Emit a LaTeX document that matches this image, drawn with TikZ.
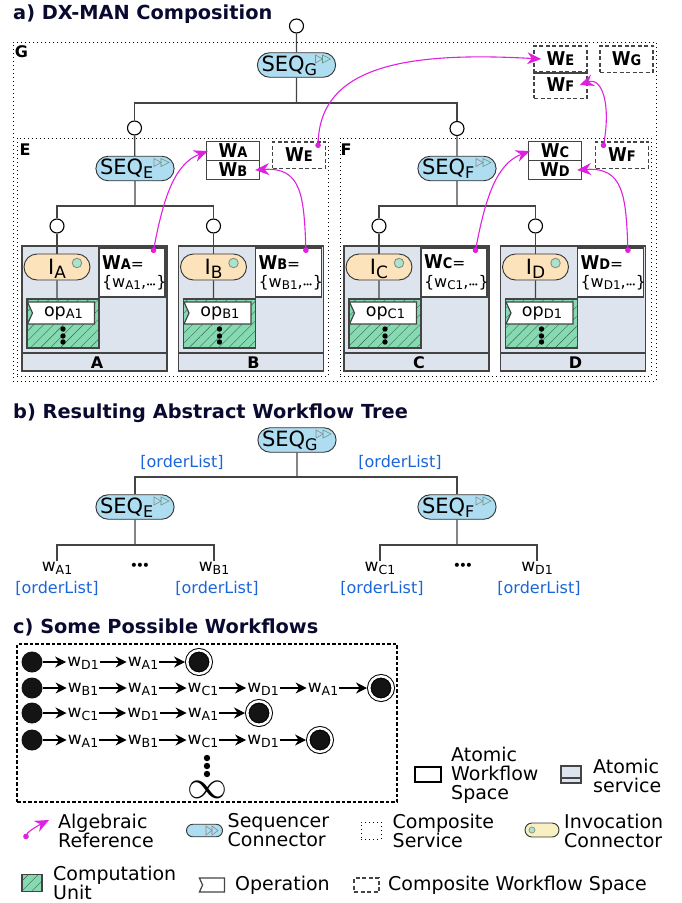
\documentclass[tikz,border=0pt]{standalone}
\usepackage{fontspec}
\setmainfont{DejaVu Sans}
\usetikzlibrary{arrows.meta,patterns.meta,shapes.misc,shapes.symbols}
\definecolor{seqblue}{HTML}{AEDCF0}
\definecolor{ifcorange}{HTML}{FDE3BC}
\definecolor{ifcyellow}{HTML}{F8F0C0}
\definecolor{svcgray}{HTML}{DEE4EE}
\definecolor{cugreen}{HTML}{86DAB2}
\definecolor{refpink}{HTML}{E020E0}
\definecolor{listblue}{HTML}{1A66D8}
\definecolor{titlenavy}{HTML}{0A0A30}
\definecolor{linegray}{HTML}{444444}
\newcommand{\fs}[1]{\fontsize{#1}{#1}\selectfont}
\newcommand{\subt}[2][12.5]{\raisebox{-2.5pt}[0pt][0pt]{\fs{#1}#2}}
\newcommand{\bigsub}[2][16]{\raisebox{-4pt}[0pt][0pt]{\fs{#1}#2}}
\newcommand{\wlab}[1]{w\subt{#1}}
\newcommand{\wbold}[1]{\scalebox{1}[1.12]{\bfseries\fs{17}W\fs{13}#1}}
\newcommand{\threedots}[1]{{\fs{#1}•\kern-.16em•\kern-.16em•}}
\tikzset{
  wire/.style={draw=linegray,line width=1.3pt},
  sectitle/.style={anchor=base west,inner sep=0pt,text=titlenavy,font=\fs{19.35}\bfseries},
  port/.style={circle,draw=black,fill=white,line width=1.1pt,minimum size=14pt,inner sep=0pt},
  seqconn/.style={rounded rectangle,draw=black!80,line width=.9pt,fill=seqblue,minimum width=76pt,minimum height=24.5pt,inner sep=0pt,text width=70pt,align=left,font=\fs{21}},
  ifcconn/.style={rounded rectangle,draw=black!80,line width=.9pt,fill=ifcorange,minimum width=66pt,minimum height=26pt,inner sep=0pt,font=\fs{21}},
  svcbox/.style={draw=linegray,line width=1.4pt,fill=svcgray,minimum width=145pt,minimum height=125pt,inner sep=0pt},
  cubox/.style={draw=linegray,line width=1.2pt,preaction={fill=cugreen},pattern={Lines[angle=45,distance=7pt,line width=.4pt]},pattern color=black!55!cugreen,inner sep=0pt},
  opbanner/.style={signal,signal from=west,signal to=nowhere,signal pointer angle=131,draw=linegray,line width=1.2pt,fill=white,inner sep=0pt,font=\fs{17.5}},
  wsetbox/.style={draw=linegray,line width=1.2pt,fill=white,minimum width=66pt,minimum height=49pt,inner sep=3pt,align=left,text width=60pt},
  wcell/.style={draw=linegray,line width=1.3pt,fill=white,minimum width=53pt,minimum height=19pt,inner sep=0pt},
  wdash/.style={draw=linegray,line width=1.5pt,dash pattern=on 4pt off 2.5pt,fill=white,minimum width=53pt,minimum height=26.5pt,inner sep=0pt},
  compbox/.style={draw=black,line width=1pt,dash pattern=on 1pt off 3pt,inner sep=0pt},
  boxname/.style={inner sep=0pt,font=\fs{16}\bfseries},
  refarrow/.style={draw=refpink,line width=1.1pt,{Circle[length=5.5pt]}-{Stealth[length=14pt,width=12pt]}},
  reflist/.style={inner sep=0pt,text=listblue,font=\fs{16}},
  wleaf/.style={inner sep=1pt,font=\fs{17}},
  flow/.style={draw=black,line width=1.1pt,-{Stealth[length=11pt,width=11pt]}},
  startdot/.style={circle,fill=black!92,minimum size=21pt,inner sep=0pt},
  enddot/.style={circle,draw=black,line width=1pt,fill=black!92,double=white,double distance=2.5pt,minimum size=23.5pt,inner sep=0pt,outer sep=2.25pt},
  legtext/.style={anchor=west,align=left,inner sep=0pt,font=\fs{19}},
  seqmarks/.pic={
    \draw[black!45,line width=.6pt] (19,-10) -- (26,-6) -- (19,-2) -- cycle;
    \draw[black!30!cugreen,line width=.6pt] (26,-10) -- (34,-6) -- (26,-2) -- cycle;
  }
}
\begin{document}
\begin{tikzpicture}[x=1pt,y=-1pt]
\useasboundingbox (0,0) rectangle (681,903);
\node[sectitle] (titleA) at (13,19) {a) DX-MAN Composition};
\node[sectitle] (titleB) at (13,418) {b) Resulting Abstract Workflow Tree};
\node[sectitle] (titleC) at (13,633) {c) Some Possible Workflows};

\node[compbox,minimum width=643pt,minimum height=339pt] (compG) at (334.5,211.5) {};
\node[compbox,minimum width=311pt,minimum height=238pt] (compE) at (172.5,257) {};
\node[compbox,minimum width=311pt,minimum height=238pt] (compF) at (495.5,257) {};
\node[boxname] (nameG) at (21.5,52) {G};
\node[boxname] (nameE) at (25,150) {E};
\node[boxname] (nameF) at (346,150) {F};

\node[port] (portG) at (296.5,26) {};
\node[port] (portE) at (134.5,128) {};
\node[port] (portF) at (457,128.5) {};
\node[seqconn] (seqG) at (296.5,65) {SEQ\bigsub{G}};
\node[seqconn] (seqE) at (135,168.5) {SEQ\bigsub{E}};
\node[seqconn] (seqF) at (457,168.5) {SEQ\bigsub{F}};
\foreach \sq in {seqG,seqE,seqF}
  \pic at (\sq) {seqmarks};
\coordinate (busG) at (296.5,103);
\coordinate (busE) at (135,206);
\coordinate (busF) at (457,206);
\draw[wire] (portG) -- (seqG);
\draw[wire] (seqG) -- (busG);
\draw[wire] (portE) |- (busG) -| (portF);
\draw[wire] (portE) -- (seqE);
\draw[wire] (portF) -- (seqF);
\draw[wire] (seqE) -- (busE);
\draw[wire] (seqF) -- (busF);

\foreach \nm/\sx/\bu in {A/0/E,B/156.5/E,C/322/F,D/478.5/F}{
  \begin{scope}[xshift=\sx]
  \node[port] (port\nm) at (57,226) {};
  \node[svcbox] (svc\nm) at (94.5,308.5) {};
  \draw[wire] (svc\nm.west |- 0,353) -- (svc\nm.east |- 0,353);
  \node[boxname] (lbl\nm) at (97,362.5) {\nm};
  \node[ifcconn] (ifc\nm) at (57,267) {I\bigsub[17]{\nm}};
  \node[circle,fill=cugreen!70,draw=black!45,line width=.9pt,minimum size=9.5pt,inner sep=0pt] (led\nm) at (77,263) {};
  \node[cubox,minimum width=72pt,minimum height=49pt] (cu\nm) at (63,323.5) {};
  \node[opbanner,minimum width=67pt,minimum height=22pt] (op\nm) at (63.5,313) {op\subt[13]{\nm1}};
  \foreach \yy in {329,336,342} \fill[black] (63,\yy) circle (2.7);
  \node[wsetbox] (wset\nm) at (132,272.5) {\wbold{\nm}\fs{15.5}=\\[5pt]\fs{16}\{w\subt[12]{\nm1},\threedots{7}\}};
  \draw[wire] (port\nm) -- (ifc\nm);
  \draw[wire] (ifc\nm) -- (ifc\nm |- cu\nm.north);
  \draw[wire] (port\nm) |- (bus\bu);
  \end{scope}
}
\foreach \nm/\ca/\cb/\cx in {A/A/B/233,C/C/D/555}{
  \node[wcell] (cell\ca) at (\cx,151) {\wbold{\ca}};
  \node[wcell] (cell\cb) at (\cx,170) {\wbold{\cb}};
}
\node[wdash] (wdashE) at (299,155) {\wbold{E}};
\node[wdash] (wdashF) at (622,155) {\wbold{F}};
\node[wdash] (wtopE) at (560.5,59) {\wbold{E}};
\node[wdash] (wtopF) at (560.5,85) {\wbold{F}};
\node[wdash] (wtopG) at (626.5,59) {\wbold{G}};
\draw[wire] (wtopE.south west) -- (wtopE.south east);

\coordinate (refA) at (153,253);
\coordinate (refB) at (306,253);
\coordinate (refC) at (475,253);
\coordinate (refD) at (628,253);
\coordinate (refE) at (318,148);
\coordinate (refF) at (603,148);
\draw[refarrow] (refA) .. controls +(10,-53) and +(-34,13) .. ([xshift=2pt]cellA.west);
\draw[refarrow] (refB) .. controls +(-2,-58) and +(46,-3) .. ([xshift=-5pt]cellB.east);
\draw[refarrow] (refC) .. controls +(10,-53) and +(-34,13) .. ([xshift=2pt]cellC.west);
\draw[refarrow] (refD) .. controls +(-2,-58) and +(46,-3) .. ([xshift=-5pt]cellD.east);
\draw[refarrow] (refE) .. controls +(2,-80) and +(-140,-8) .. ([xshift=8pt]wtopE.west);
\draw[refarrow] (refF) .. controls +(8,-45) and +(22,-8) .. ([xshift=-8pt]wtopF.east);

\node[seqconn] (treeG) at (297,440) {SEQ\bigsub{G}};
\node[seqconn] (treeE) at (135,507) {SEQ\bigsub{E}};
\node[seqconn] (treeF) at (457,507) {SEQ\bigsub{F}};
\foreach \sq in {treeG,treeE,treeF}
  \pic at (\sq) {seqmarks};
\coordinate (treebusG) at (297,477);
\coordinate (treebusE) at (135,545);
\coordinate (treebusF) at (457,545);
\draw[wire] (treeG) -- (treebusG);
\draw[wire] (treeE) |- (treebusG) -| (treeF);
\draw[wire] (treeE) -- (treebusE);
\draw[wire] (treeF) -- (treebusF);
\node[reflist] (listE) at (182,462) {[orderList]};
\node[reflist] (listF) at (400,462) {[orderList]};
\foreach \nm/\lx/\ox/\bu in {A/57/57/E,B/214/217/E,C/380/382/F,D/537/539/F}{
  \node[wleaf] (leaf\nm) at (\lx,567) {\wlab{\nm1}};
  \node[reflist] (list\nm) at (\ox,588) {[orderList]};
  \draw[wire] (leaf\nm) |- (treebus\bu);
}
\node[inner sep=0pt] (moreE) at (140,567) {\threedots{14}};
\node[inner sep=0pt] (moreF) at (463,567) {\threedots{14}};

\node[draw=black,line width=1.1pt,dash pattern=on 3.5pt off 2pt,minimum width=380pt,minimum height=158pt,inner sep=0pt] (runs) at (207,723) {};
\foreach \rw/\yy/\labs/\nn/\ex in {1/662/{D1,A1}/2/199,2/688/{B1,A1,C1,D1,A1}/5/381,3/713/{C1,D1,A1}/3/259,4/740/{A1,B1,C1,D1}/4/320}{
  \node[startdot] (w\rw-0) at (32,\yy) {};
  \node[enddot] (end\rw) at (\ex,\yy) {};
  \foreach \lb [count=\ii] in \labs {
    \pgfmathtruncatemacro{\jj}{\ii-1}
    \pgfmathsetmacro{\xx}{83+60*\jj}
    \node[wleaf] (w\rw-\ii) at (\xx,\yy) {\wlab{\lb}};
    \draw[flow] (w\rw-\jj) -- (w\rw-\ii);
  }
  \draw[flow] (w\rw-\nn) -- (end\rw);
}
\foreach \yy in {758,766,774} \fill[black] (207,\yy) circle (3.2);
\node[inner sep=0pt] (inftyrun) at (207,790) {\scalebox{4}{$\infty$}};

\node[draw=black,line width=1.2pt,minimum width=26pt,minimum height=15pt,inner sep=0pt] (legAws) at (428,774.5) {};
\node[legtext] (txtAws) at (451,775) {Atomic\\[0pt]Workflow\\[0pt]Space};
\node[draw=linegray,line width=1.2pt,fill=svcgray,minimum width=20pt,minimum height=17pt,inner sep=0pt] (legSvc) at (571,774.5) {};
\draw[wire] (legSvc.west |- 0,778) -- (legSvc.east |- 0,778);
\node[legtext] (txtSvc) at (593,776) {Atomic\\[0pt]service};

\coordinate (legRefA) at (25,839);
\coordinate (legRefB) at (49,820);
\draw[refarrow] (legRefA) .. controls +(3,-8) and +(-8,4) .. (legRefB);
\node[legtext] (txtRef) at (58,830.5) {Algebraic\\[0pt]Reference};
\node[rounded rectangle,draw=black!80,line width=.9pt,fill=seqblue,minimum width=36pt,minimum height=12.5pt,inner sep=0pt] (legSeq) at (204.5,830.5) {};
\draw[black!45,line width=.6pt] (206,826) -- (212,830.5) -- (206,835) -- cycle;
\draw[black!45,line width=.6pt] (212,826) -- (218,830.5) -- (212,835) -- cycle;
\node[legtext] (txtSeq) at (227.5,830.5) {Sequencer\\[0pt]Connector};
\node[compbox,minimum width=20pt,minimum height=17pt] (legComp) at (371,830.5) {};
\node[legtext] (txtComp) at (392.5,830.5) {Composite\\[0pt]Service};
\node[rounded rectangle,draw=black!80,line width=.9pt,fill=ifcyellow,minimum width=34pt,minimum height=14pt,inner sep=0pt] (legIfc) at (542,830) {};
\node[circle,fill=cugreen!70,draw=black!45,line width=.7pt,minimum size=6pt,inner sep=0pt] (legLed) at (532,830) {};
\node[legtext] (txtIfc) at (564,830.5) {Invocation\\[0pt]Connector};

\node[cubox,minimum width=20pt,minimum height=17pt] (legCu) at (32,883) {};
\node[legtext] (txtCu) at (53,883) {Computation\\[0pt]Unit};
\node[opbanner,minimum width=25pt,minimum height=14pt] (legOp) at (213.5,885) {};
\node[legtext] (txtOp) at (235,885) {Operation};
\node[draw=linegray,line width=1.1pt,dash pattern=on 4pt off 2.5pt,minimum width=25pt,minimum height=14pt,inner sep=0pt] (legDash) at (366.5,885) {};
\node[legtext] (txtDash) at (388,885) {Composite Workflow Space};
\end{tikzpicture}
\end{document}
